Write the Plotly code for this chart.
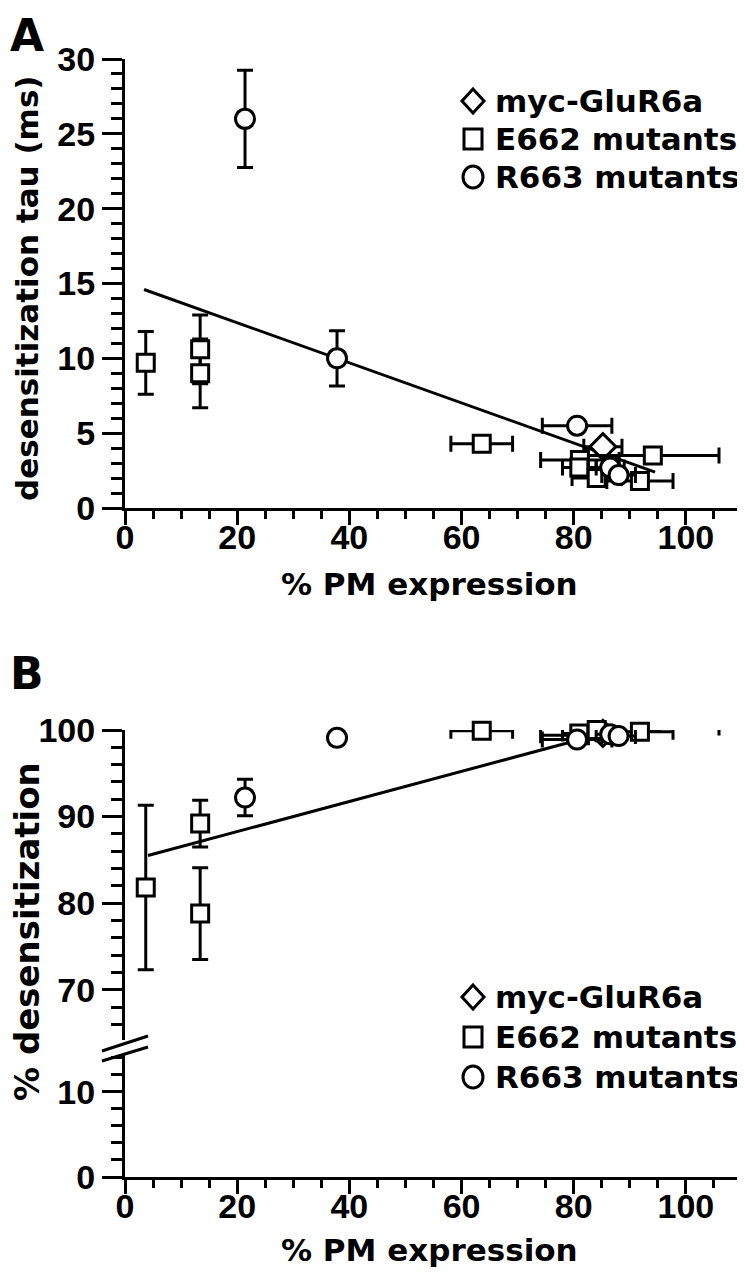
import plotly.graph_objects as go

# The page places the figure 8 px from the top-left corner, so the figure is
# sized to the visible area and every reference pixel position is shifted by 8.
OFF = 8
W, H = 745 - OFF, 1280 - OFF

# ---------------- Panel A: desensitization tau (ms) vs % PM expression ----------------
a_myc_x = [85.2]
a_myc_y = [4.1]
a_myc_xe = [3.4]
a_myc_ye = [0.4]

a_e662_x = [3.7, 13.4, 13.4, 63.6, 81.1, 81.0, 84.1, 91.8, 94.1]
a_e662_y = [9.7, 10.6, 9.0, 4.3, 3.2, 2.7, 2.0, 1.8, 3.5]
a_e662_xe = [0.6, 0.6, 0.6, 5.5, 7.0, 3.0, 4.4, 5.9, 11.8]
a_e662_ye = [2.1, 2.3, 2.3, 0.3, 0.3, 0.3, 0.3, 0.3, 0.3]

a_r663_x = [21.4, 37.8, 80.6, 86.5, 88.0]
a_r663_y = [26.0, 10.0, 5.5, 2.7, 2.2]
a_r663_xe = [1.2, 1.2, 6.2, 2.5, 3.0]
a_r663_ye = [3.25, 1.85, 0.4, 0.4, 0.3]

a_fit_x = [3.4, 94.5]
a_fit_y = [14.6, 2.4]

# ---------------- Panel B: % desensitization vs % PM expression ----------------
b_myc_x = [85.2]
b_myc_y = [99.6]
b_myc_xe = [3.4]
b_myc_ye = [0.3]

b_e662_x = [3.7, 13.4, 13.4, 63.6, 81.1, 81.0, 84.1, 91.8, 94.1]
b_e662_y = [81.8, 89.2, 78.8, 99.9, 99.4, 99.6, 100.0, 99.8, 100.3]
b_e662_xe = [0.6, 0.6, 0.6, 5.5, 7.0, 3.0, 4.4, 5.9, 11.8]
b_e662_ye = [9.5, 2.7, 5.3, 0.3, 0.3, 0.3, 0.3, 0.3, 0.3]

b_r663_x = [21.4, 37.8, 80.6, 86.5, 88.0]
b_r663_y = [92.2, 99.1, 98.9, 99.5, 99.3]
b_r663_xe = [1.2, 1.2, 6.2, 2.5, 3.0]
b_r663_ye = [2.1, 0.3, 0.3, 0.3, 0.3]

b_fit_x = [4.1, 84.0]
b_fit_y = [85.5, 99.4]

x_ticks = [0, 20, 40, 60, 80, 100]
a_y_ticks = [0, 5, 10, 15, 20, 25, 30]
b_upper_ticks = [70, 80, 90, 100]
b_lower_ticks = [0, 10]

legend_labels = ["myc-GluR6a", "E662 mutants", "R663 mutants"]

LEG_FONT = dict(family="DejaVu Sans", size=31, color="black", weight="bold")
TICK_FONT = dict(family="Liberation Sans, Arial, sans-serif", size=34, color="black", weight="bold")
TITLE_FONT = dict(family="DejaVu Sans", size=31, color="black", weight="bold")

fig = go.Figure()


def add_group(x, y, xe, ye, symbol, size, name, xa, ya):
    fig.add_trace(go.Scatter(
        x=x, y=y, mode="markers", name=name, xaxis=xa, yaxis=ya, showlegend=False,
        marker=dict(symbol=symbol, size=size, color="white", line=dict(color="black", width=3)),
        error_x=dict(type="data", array=xe, visible=True, color="black", thickness=3, width=8),
        error_y=dict(type="data", array=ye, visible=True, color="black", thickness=3, width=8),
        cliponaxis=False,
    ))


# fit lines first (under markers)
fig.add_trace(go.Scatter(x=a_fit_x, y=a_fit_y, mode="lines", line=dict(color="black", width=3),
                         xaxis="x", yaxis="y", showlegend=False))
fig.add_trace(go.Scatter(x=b_fit_x, y=b_fit_y, mode="lines", line=dict(color="black", width=3),
                         xaxis="x2", yaxis="y3", showlegend=False))

add_group(a_myc_x, a_myc_y, a_myc_xe, a_myc_ye, "diamond", 20, legend_labels[0], "x", "y")
add_group(a_e662_x, a_e662_y, a_e662_xe, a_e662_ye, "square", 17, legend_labels[1], "x", "y")
add_group(a_r663_x, a_r663_y, a_r663_xe, a_r663_ye, "circle", 19, legend_labels[2], "x", "y")

add_group(b_myc_x, b_myc_y, b_myc_xe, b_myc_ye, "diamond", 20, legend_labels[0], "x2", "y3")
add_group(b_e662_x, b_e662_y, b_e662_xe, b_e662_ye, "square", 17, legend_labels[1], "x2", "y3")
add_group(b_r663_x, b_r663_y, b_r663_xe, b_r663_ye, "circle", 19, legend_labels[2], "x2", "y3")

# dummy trace so lower axis of panel B exists
fig.add_trace(go.Scatter(x=[None], y=[None], xaxis="x2", yaxis="y2", showlegend=False))


def px_x(p):
    return (p - OFF) / W


def px_y(p):
    return 1 - (p - OFF) / H


xdom = [px_x(125), px_x(742)]

axis_common = dict(showline=True, linecolor="black", linewidth=3, ticks="outside",
                   tickcolor="black", tickwidth=3, showgrid=False, zeroline=False,
                   tickfont=TICK_FONT, mirror=False, automargin=False)

xaxis_common = dict(axis_common, range=[0, 110], tickvals=x_ticks, ticklen=14,
                    ticklabelstandoff=-17,
                    minor=dict(dtick=5, tick0=0, ticklen=8, tickwidth=3, tickcolor="black",
                               ticks="outside", showgrid=False))


def yminor(d):
    return dict(dtick=d, tick0=0, ticklen=11, tickwidth=3, tickcolor="black",
                ticks="outside", showgrid=False)


fig.update_layout(
    template="none",
    width=W, height=H,
    margin=dict(l=0, r=0, t=0, b=0, pad=0),
    paper_bgcolor="white", plot_bgcolor="white",
    showlegend=False,
    xaxis=dict(xaxis_common, domain=xdom, anchor="y"),
    yaxis=dict(axis_common, domain=[px_y(508), px_y(59)], range=[0, 30], tickvals=a_y_ticks,
               ticklen=20, anchor="x", minor=yminor(1)),
    xaxis2=dict(xaxis_common, domain=xdom, anchor="y2"),
    yaxis2=dict(axis_common, domain=[px_y(1177), px_y(1055)], range=[0, 14.3], tickvals=b_lower_ticks,
                ticklen=20, anchor="x2", minor=yminor(2)),
    yaxis3=dict(axis_common, domain=[px_y(1040), px_y(730)], range=[64.2, 100], tickvals=b_upper_ticks,
                ticklen=20, anchor="x2", minor=yminor(2)),
)

annotations = [
    dict(text="A", x=0, y=1, xanchor="left", yanchor="top",
         font=dict(family="DejaVu Sans", size=44, color="black", weight="bold")),
    dict(text="B", x=0, y=px_y(646), xanchor="left", yanchor="top",
         font=dict(family="DejaVu Sans", size=44, color="black", weight="bold")),
    dict(text="% PM expression", x=px_x(430), y=px_y(584), xanchor="center", yanchor="middle",
         font=TITLE_FONT),
    dict(text="% PM expression", x=px_x(430), y=px_y(1250), xanchor="center", yanchor="middle",
         font=TITLE_FONT),
    dict(text="desensitization tau (ms)", x=px_x(27), y=px_y(288), xanchor="center", yanchor="middle",
         textangle=-90, font=TITLE_FONT),
    dict(text="% desensitization", x=px_x(27), y=px_y(932), xanchor="center", yanchor="middle",
         textangle=-90, font=dict(TITLE_FONT, size=34)),
]

# legends (panel A and panel B)
legend_rows = {"A": [101, 139, 177], "B": [997, 1037, 1077]}
sym_x = 473
for panel, rows in legend_rows.items():
    for lab, ry in zip(legend_labels, rows):
        annotations.append(dict(text=lab, x=px_x(493), y=px_y(ry), xanchor="left", yanchor="middle",
                                font=LEG_FONT))
    d, s, c = rows
    common = dict(xref="paper", yref="paper", xsizemode="pixel", ysizemode="pixel",
                  xanchor=px_x(sym_x), line=dict(color="black", width=3), fillcolor="white")
    fig.add_shape(type="path", yanchor=px_y(d), path="M 0,12 L 11,0 L 0,-12 L -11,0 Z", **common)
    fig.add_shape(type="rect", yanchor=px_y(s), x0=-9, x1=9, y0=-10, y1=10, **common)
    fig.add_shape(type="circle", yanchor=px_y(c), x0=-10, x1=10, y0=-11, y1=11, **common)

for a in annotations:
    a.update(xref="paper", yref="paper", showarrow=False)
fig.update_layout(annotations=annotations)

# axis break marks
fig.add_shape(type="line", xref="paper", yref="paper", x0=px_x(102), y0=px_y(1051), x1=px_x(148),
              y1=px_y(1036), line=dict(color="black", width=3))
fig.add_shape(type="line", xref="paper", yref="paper", x0=px_x(102), y0=px_y(1061), x1=px_x(148),
              y1=px_y(1047), line=dict(color="black", width=3))

fig.write_html("out.html")
